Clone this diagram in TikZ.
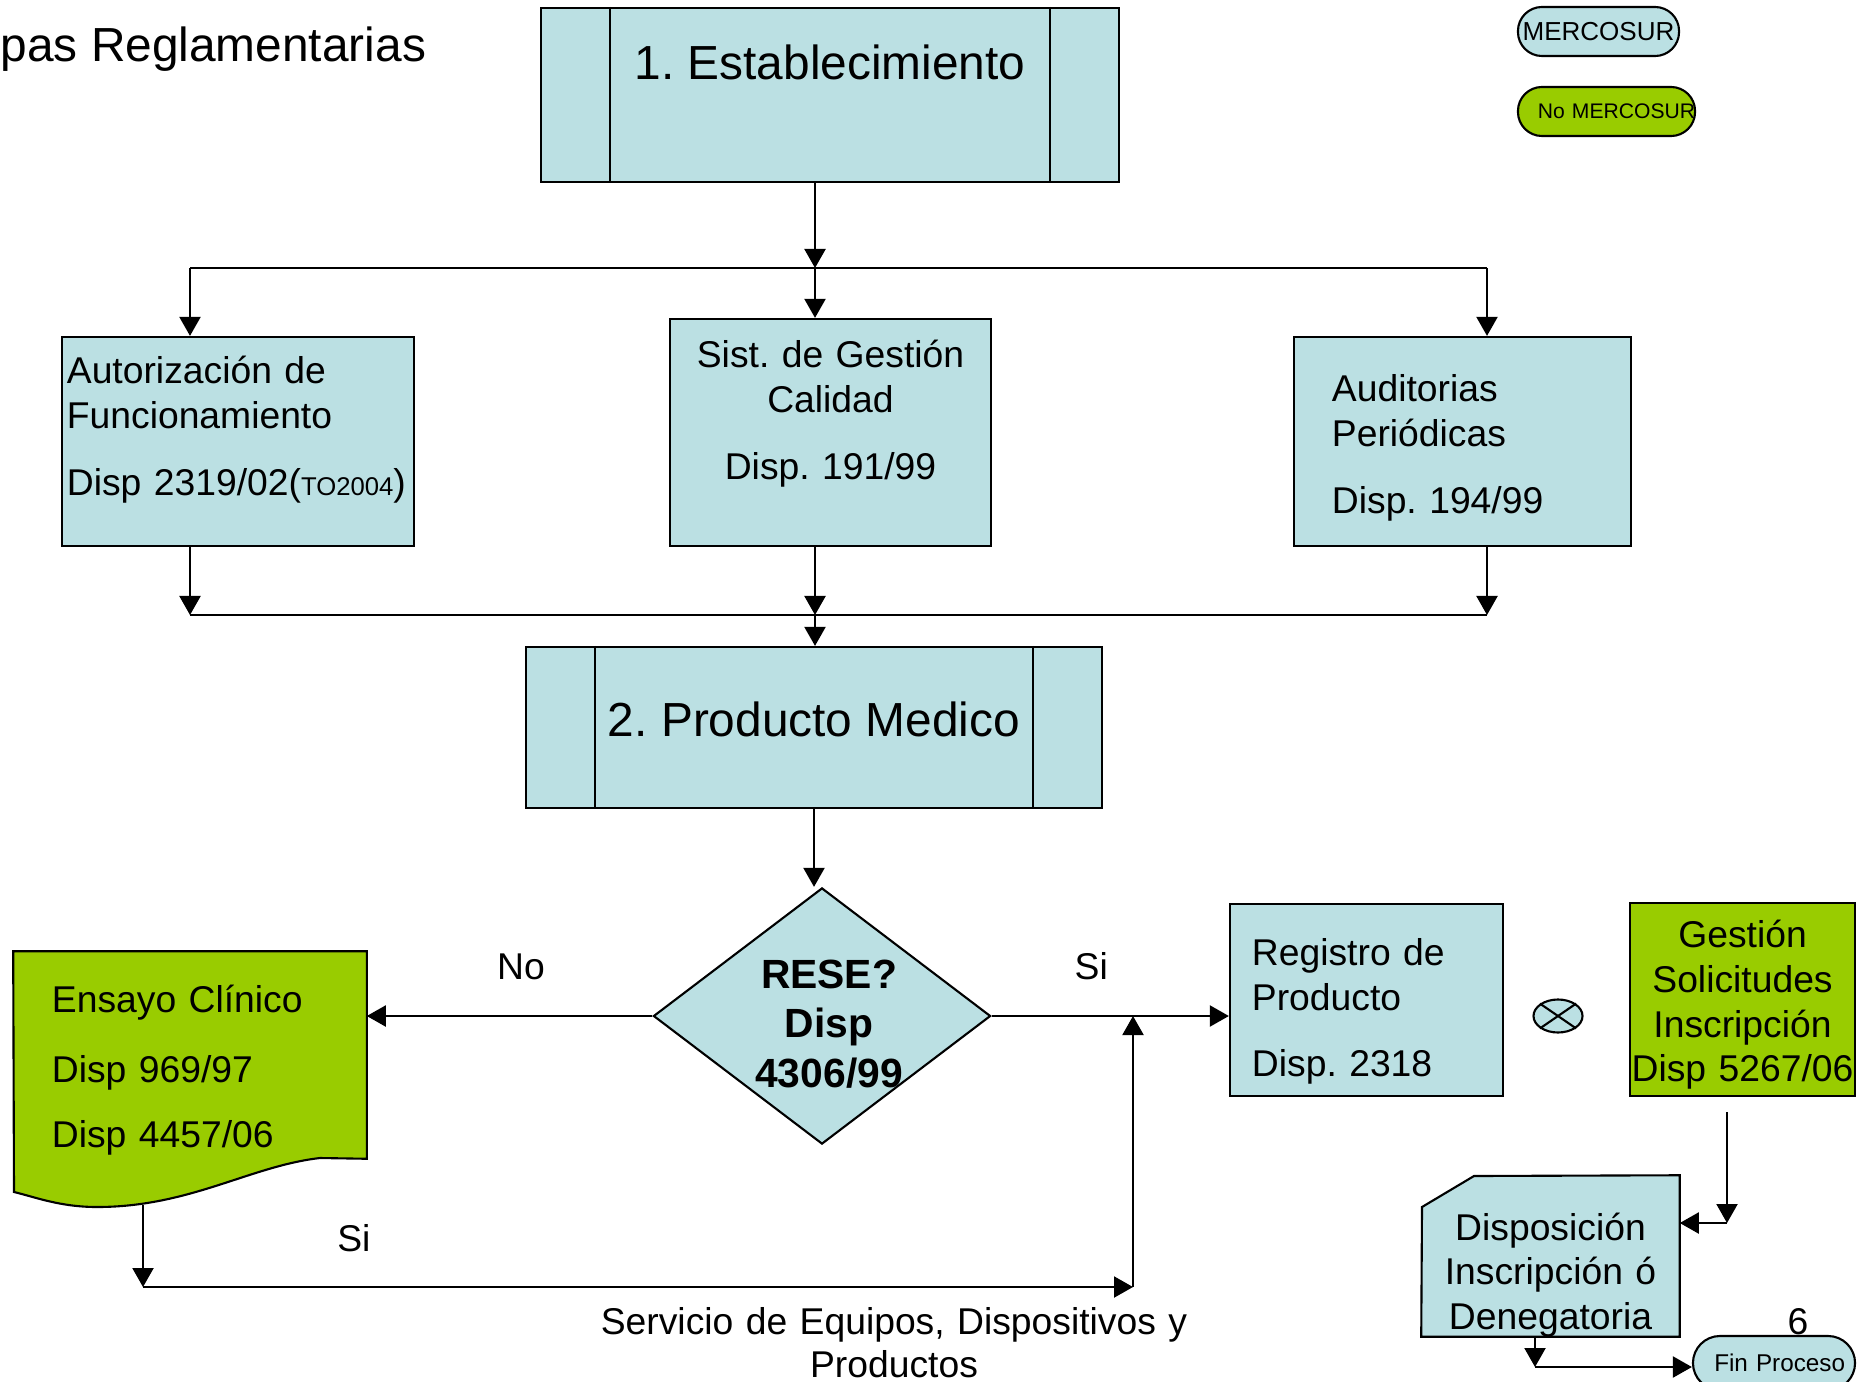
\documentclass[tikz,border=0pt]{standalone}
\usepackage{fontspec}
\setmainfont{Liberation Sans}
\usepackage{tikz}
\usetikzlibrary{shapes.geometric,arrows.meta,positioning,calc,backgrounds}
\definecolor{boxBlue}{RGB}{187,224,227}
\definecolor{boxGreen}{RGB}{153,204,0}
\frenchspacing
\tikzset{
  stageBox/.style={
    rectangle,
    draw=black,
    fill=boxBlue,
    line width=0.6pt,
    font=\fontsize{13.6pt}{16pt}\selectfont,
    inner sep=0pt,
    text height=0.35cm
  },
  infoBox/.style={
    rectangle,
    draw=black,
    fill=boxBlue,
    line width=0.6pt,
    font=\fontsize{10.6pt}{12.7pt}\selectfont,
    inner ysep=0pt,
    text height=0.35cm
  },
  greenBox/.style={
    infoBox,
    fill=boxGreen
  },
  shapeText/.style={
    rectangle,
    font=\fontsize{10.6pt}{12.7pt}\selectfont,
    inner ysep=0pt,
    text height=0.35cm
  },
  decision/.style={
    diamond,
    draw=black,
    fill=boxBlue,
    line width=0.6pt,
    inner sep=0pt
  },
  terminal/.style={
    rectangle,
    rounded corners=0.24cm,
    draw=black,
    line width=0.6pt,
    inner sep=0pt
  },
  arrowLine/.style={
    -{Triangle[length=1.9mm,width=2.1mm]},
    line width=0.6pt
  },
  flowLine/.style={
    line width=0.6pt
  },
  edgeLabel/.style={
    font=\fontsize{10.6pt}{12.7pt}\selectfont,
    inner sep=0pt
  }
}

\begin{document}
\begin{tikzpicture}[x=0.01cm, y=-0.01cm]
        \useasboundingbox (0,0) rectangle (1876,1382);

        \node[anchor=base west, inner sep=0pt, font=\fontsize{13.6pt}{16pt}\selectfont] (title) at (0,62) {pas Reglamentarias};

        % legend
        \node[terminal, fill=boxBlue, minimum width=1.61cm, minimum height=0.49cm, font=\fontsize{7.4pt}{8pt}\selectfont] (mercosur) at (1598.5,31.5) {MERCOSUR};
        \node[terminal, fill=boxGreen, minimum width=1.77cm, minimum height=0.49cm, text width=1.77cm, align=right, font=\fontsize{6pt}{7pt}\selectfont] (noMercosur) at (1606.5,111.5) {No MERCOSUR};

        % stages
        \node[stageBox, minimum width=5.78cm, minimum height=1.74cm, text depth=0.65cm] (establecimiento) at (830,95) {1. Establecimiento};
        \node[stageBox, minimum width=5.76cm, minimum height=1.61cm, text depth=0.18cm] (producto) at (814,727.5) {2. Producto Medico};
        \foreach \stage in {establecimiento, producto} {
          \draw[flowLine] ([xshift=0.7cm]\stage.north west) -- ([xshift=0.7cm]\stage.south west);
          \draw[flowLine] ([xshift=-0.7cm]\stage.north east) -- ([xshift=-0.7cm]\stage.south east);
        }

        % requirements of the establishment
        \node[infoBox, minimum width=3.52cm, minimum height=2.09cm, text width=3.42cm, inner xsep=0.05cm, text depth=1.50cm, align=left] (autorizacion) at (238,441.5)
          {Autorización de\\Funcionamiento\\[6.3pt]Disp 2319/02({\fontsize{7.3pt}{8pt}\selectfont TO2004})};
        \node[infoBox, minimum width=3.21cm, minimum height=2.27cm, text width=3.21cm, inner xsep=0pt, text depth=1.64cm, align=center] (sistGestion) at (830.5,432.5)
          {Sist. de Gestión\\Calidad\\[6.4pt]Disp. 191/99};
        \node[infoBox, minimum width=3.37cm, minimum height=2.09cm, text width=2.61cm, inner xsep=0.38cm, text depth=1.14cm, align=left] (auditorias) at (1462.5,441.5)
          {Auditorias\\Periódicas\\[6.3pt]Disp. 194/99};

        % decision and its branches
        \node[decision, minimum width=3.37cm, minimum height=2.56cm] (rese) at (822,1016) {};
        \node[anchor=base, inner sep=0pt, text width=2cm, align=center, font=\bfseries\fontsize{11.6pt}{14.2pt}\selectfont] (reseText) at (829,988) {RESE?\\Disp\\4306/99};

        \node[shapeText, minimum width=3.52cm, minimum height=2.06cm, text width=2.76cm, inner xsep=0.38cm, text depth=1.19cm, align=left] (ensayo) at (190,1055)
          {Ensayo Clínico\\[7.1pt]Disp 969/97\\[5.8pt]Disp 4457/06};
        \node[infoBox, minimum width=2.73cm, minimum height=1.92cm, text width=2.29cm, inner xsep=0.22cm, text depth=1.03cm, align=left] (registro) at (1366.5,1000)
          {Registro de\\Producto\\[6pt]Disp. 2318};
        \node[ellipse, draw=black, fill=boxBlue, line width=0.6pt, inner sep=0pt, minimum width=0.49cm, minimum height=0.33cm] (xorSign) at (1558,1016) {};
        \draw[flowLine] (xorSign.north west) -- (xorSign.south east);
        \draw[flowLine] (xorSign.north east) -- (xorSign.south west);
        \node[greenBox, minimum width=2.25cm, minimum height=1.93cm, text width=2.25cm, inner xsep=0pt, text depth=1.38cm, align=center] (solicitudes) at (1742.5,999.5)
          {Gestión\\Solicitudes\\Inscripción\\Disp 5267/06};
        \node[shapeText, minimum width=2.57cm, minimum height=1.60cm, text width=2.57cm, inner xsep=0pt, text depth=0.67cm, align=center] (disposicion) at (1550.5,1256)
          {Disposición\\Inscripción ó\\Denegatoria};
        \node[terminal, fill=boxBlue, rounded corners=0.27cm, minimum width=1.62cm, minimum height=0.54cm, text width=1.42cm, inner xsep=0.1cm, align=right, font=\fontsize{6.9pt}{8pt}\selectfont] (finProceso) at (1774,1363) {Fin Proceso};
        \node[edgeLabel, anchor=base] (finNum) at (1798,1334) {6};

        \node[edgeLabel, anchor=base, text width=6cm, align=center, font=\fontsize{10.6pt}{12.3pt}\selectfont] (servicio) at (894,1334)
          {Servicio de Equipos, Dispositivos y\\Productos};

        % document shapes
        \begin{scope}[on background layer]
          \draw[flowLine, fill=boxGreen] (ensayo.north west) -- (ensayo.north east) -- (ensayo.south east) -- (320,1158)
            .. controls (250,1166) and (190,1207) .. (97,1207)
            .. controls (60,1207) and (35,1197) .. (14,1192) -- cycle;
          \draw[flowLine, fill=boxBlue] (1474,1176) -- (disposicion.north east) -- (disposicion.south east)
            -- (disposicion.south west) -- (1422,1207) -- cycle;
        \end{scope}

        % connectors
        \coordinate (topBus) at (815,268);
        \coordinate (topBusL) at (190,268);
        \coordinate (topBusR) at (1487,268);
        \coordinate (lowBus) at (815,615);
        \coordinate (lowBusL) at (190,615);
        \coordinate (lowBusR) at (1487,615);

        \draw[arrowLine] (topBus |- establecimiento.south) -- (topBus);
        \draw[flowLine] (topBusL) -- (topBusR);
        \draw[arrowLine] (topBusL) -- (topBusL |- autorizacion.north);
        \draw[arrowLine] (topBus) -- (topBus |- sistGestion.north);
        \draw[arrowLine] (topBusR) -- (topBusR |- auditorias.north);

        \draw[arrowLine] (lowBusL |- autorizacion.south) -- (lowBusL);
        \draw[arrowLine] (lowBus |- sistGestion.south) -- (lowBus);
        \draw[arrowLine] (lowBusR |- auditorias.south) -- (lowBusR);
        \draw[flowLine] (lowBusL) -- (lowBusR);
        \draw[arrowLine] (lowBus) -- (lowBus |- producto.north);

        \draw[arrowLine] (producto.south) -- (producto.south |- rese.north);
        \draw[arrowLine] (rese.west) -- node[edgeLabel, pos=0.46, above=0.35cm] (noLabel) {No} (rese.west -| ensayo.east);
        \draw[arrowLine] (rese.east) -- node[edgeLabel, pos=0.42, above=0.35cm] (siLabel) {Si} (rese.east -| registro.west);

        \coordinate (ensayoFoot) at (143,1205);
        \coordinate (siCorner) at (143,1287);
        \coordinate (siEnd) at (1133,1287);
        \draw[arrowLine] (ensayoFoot) -- (siCorner);
        \draw[arrowLine] (siCorner) -- node[edgeLabel, pos=0.213, above=0.34cm] (siLowLabel) {Si} (siEnd);
        \draw[arrowLine] (siEnd) -- (siEnd |- rese.east);

        \coordinate (solTail) at (1727,1112);
        \coordinate (solCorner) at (1727,1223);
        \draw[arrowLine] (solTail) -- (solCorner);
        \draw[arrowLine] (solCorner) -- (solCorner -| disposicion.east);
        \coordinate (dispCorner) at (1535,1367);
        \draw[arrowLine] (dispCorner |- disposicion.south) -- (dispCorner);
        \draw[arrowLine] (dispCorner) -- (dispCorner -| finProceso.west);
    \end{tikzpicture}
\end{document}
